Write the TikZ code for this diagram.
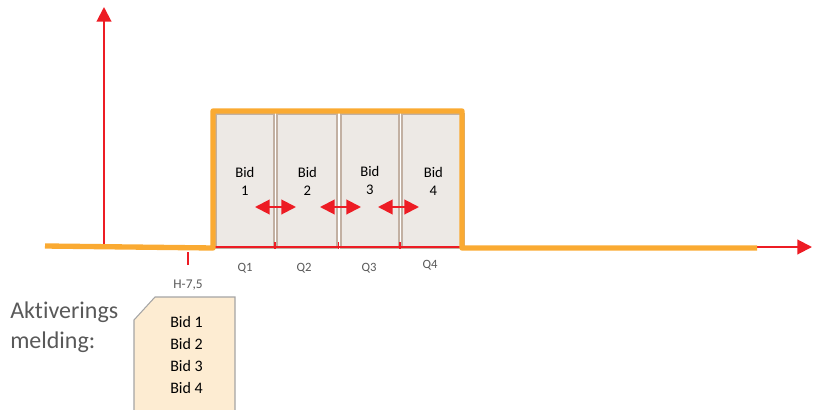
\documentclass[tikz,border=0pt]{standalone}
\usepackage{fontspec}
\setmainfont{Carlito}[Ligatures=CommonOff]
\usetikzlibrary{arrows.meta,positioning}
\definecolor{sigorange}{RGB}{250,170,50}
\definecolor{axisred}{RGB}{237,28,36}
\definecolor{bidfill}{RGB}{237,233,229}
\definecolor{bidedge}{RGB}{194,176,162}
\definecolor{notefill}{RGB}{253,236,210}
\definecolor{noteedge}{RGB}{165,165,165}
\definecolor{labelgrey}{RGB}{89,89,89}
\tikzset{
    bidblock/.style={draw=bidedge, fill=bidfill, line width=1.4pt, inner sep=0pt, minimum height=100.5pt, align=center, font=\fontsize{11}{13.5}\selectfont},
    axisarrow/.style={-{Triangle[length=11pt,width=11pt]}, axisred, line width=1.5pt},
    shiftarrow/.style={{Triangle[length=11pt,width=11pt]}-{Triangle[length=11pt,width=11pt]}, axisred, line width=1.5pt},
    signalline/.style={sigorange, line width=4pt, line join=round},
    tickline/.style={axisred, line width=1.1pt},
    quarterlabel/.style={anchor=base, text=labelgrey, font=\fontsize{9.5}{11}\selectfont},
    notetext/.style={anchor=base west, align=left, inner sep=0pt, font=\fontsize{12}{16.5}\selectfont}
}
\begin{document}
\begin{tikzpicture}[x=0.75pt, y=-0.75pt]
    \useasboundingbox (0,0) rectangle (813,410);
    % bud-blokker
    \node[bidblock, anchor=north west, minimum width=43.5pt] (bid1) at (215,113) {Bid\\1};
    \node[bidblock, right=1.2pt of bid1, minimum width=45pt] (bid2) {Bid\\2};
    \node[bidblock, right=1.2pt of bid2, minimum width=43.5pt] (bid3) {Bid\\3};
    \node[bidblock, right=1.2pt of bid3, minimum width=46.5pt] (bid4) {Bid\\4};
    % akser
    \coordinate (origin) at (104,247);
    \coordinate (yend) at (104,7);
    \coordinate (xend) at (812,247);
    \draw[axisarrow] (origin) -- (yend);
    \draw[axisarrow] (origin) -- (xend);
    \draw[tickline] (213,247) -- ++(0,-14);
    \draw[tickline] (bid1.south east) -- ++(0,-7);
    \draw[tickline] (bid2.south east) -- ++(0,-7);
    \draw[tickline] (bid3.south east) -- ++(0,-7);
    % aktiveringssignal
    \draw[signalline] (45,246) -- (213,248) -- (213,111) -- (462,111) -- (462,248) -- (757,248);
    % forskyvning
    \coordinate (s1a) at (255,207); \coordinate (s1b) at (296,207);
    \coordinate (s2a) at (320,207); \coordinate (s2b) at (361,207);
    \coordinate (s3a) at (378,207); \coordinate (s3b) at (419,207);
    \draw[shiftarrow] (s1a) -- (s1b);
    \draw[shiftarrow] (s2a) -- (s2b);
    \draw[shiftarrow] (s3a) -- (s3b);
    % kvarter
    \node[quarterlabel] (q1) at (245,271) {Q1};
    \node[quarterlabel] (q2) at (304,271) {Q2};
    \node[quarterlabel] (q3) at (369,271) {Q3};
    \node[quarterlabel] (q4) at (430,268) {Q4};
    \coordinate (hmark) at (188,252);
    \draw[tickline] (hmark) -- ++(0,13);
    \node[quarterlabel, font=\fontsize{10}{12}\selectfont] (hlabel) at (188,288) {H-7,5};
    % melding
    \node[anchor=base west, align=left, inner sep=0pt, text=labelgrey, font=\fontsize{18}{22.5}\selectfont] (aktlabel) at (10,348) {Aktiverings\\melding:};
    \draw[draw=noteedge, fill=notefill, line width=0.8pt] (134,414) -- (134,320) -- (155,297) -- (235,297) -- (235,414);
    \node[notetext] (notelist) at (170,393) {Bid 1\\Bid 2\\Bid 3\\Bid 4};
\end{tikzpicture}
\end{document}
